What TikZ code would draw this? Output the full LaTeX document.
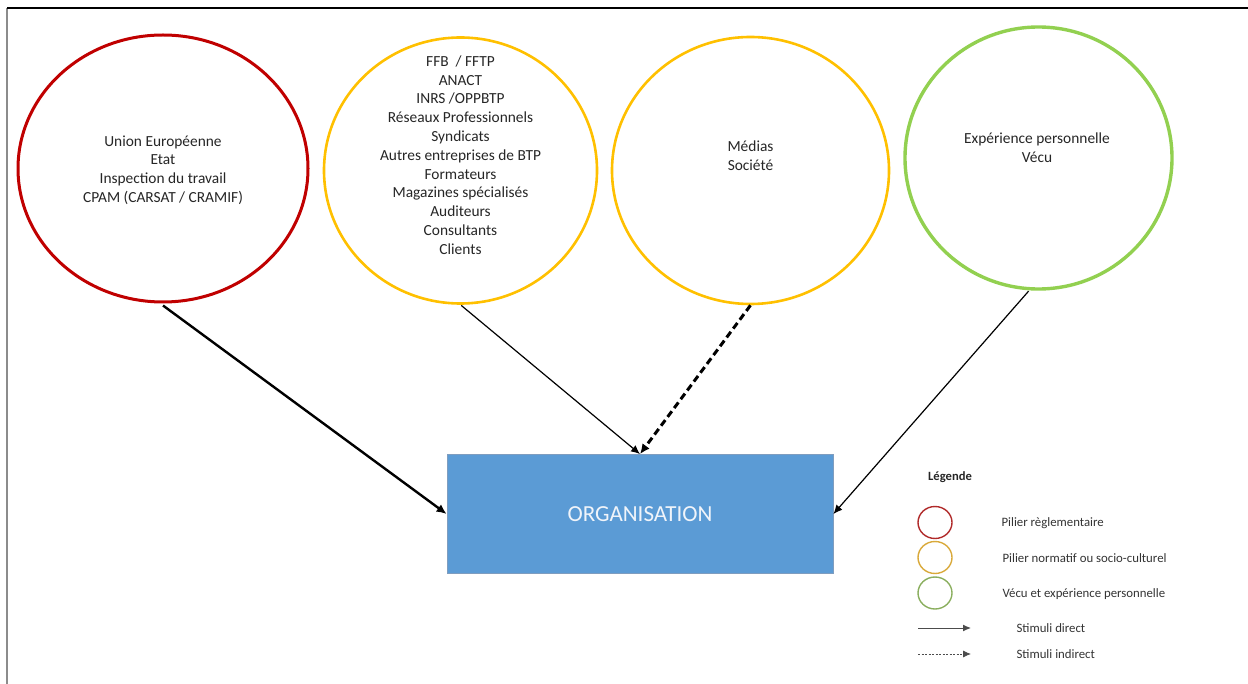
\documentclass[tikz,border=0pt]{standalone}
\usepackage{fontspec}
\setmainfont{Carlito}
\usetikzlibrary{shapes.geometric,arrows.meta}
\definecolor{pilred}{HTML}{C00000}
\definecolor{pilyel}{HTML}{FFC000}
\definecolor{pilgreen}{HTML}{92D050}
\definecolor{orgblue}{HTML}{5B9BD5}
\definecolor{orgborder}{HTML}{7F9DBF}
\definecolor{legred}{HTML}{B02A2A}
\definecolor{legyel}{HTML}{D9A93A}
\definecolor{leggreen}{HTML}{8AAE5E}
\tikzset{
  pillar/.style={ellipse, inner sep=0pt, fill=white},
  circtext/.style={align=center, font=\fontsize{15.4}{18.8}\selectfont, text=black!85},
  legtext/.style={anchor=west, font=\fontsize{12.8}{15}\selectfont, text=black!80},
  legcirc/.style={ellipse, inner sep=0pt, minimum width=34pt, minimum height=32pt, line width=1.4pt},
  direct/.style={-{Latex[length=9pt,width=8pt]}, line width=1.2pt, shorten <=1pt},
  directthick/.style={-{Latex[length=10pt,width=9pt]}, line width=2.4pt},
  indirect/.style={-{Latex[length=10pt,width=9pt]}, line width=3pt, dash pattern=on 7pt off 4pt},
}
\begin{document}
\begin{tikzpicture}[x=1pt,y=-1pt]
\useasboundingbox (0,0) rectangle (1248,684);
% frame
\draw[black!45, line width=1.2pt] (7,8) -- (7,684);
\draw[black, line width=1.5pt] (7,8) -- (1248,8);

% pillars
\node[pillar, draw=pilred, line width=3pt, minimum width=290pt, minimum height=267pt] (reg) at (163,168.5) {};
\node[pillar, draw=pilyel, line width=2.6pt, minimum width=273pt, minimum height=266pt] (norm) at (460.5,170.5) {};
\node[pillar, draw=pilyel, line width=2.6pt, minimum width=277pt, minimum height=267pt] (med) at (750.5,170.5) {};
\node[pillar, draw=pilgreen, line width=3.4pt, minimum width=267pt, minimum height=262pt] (exp) at (1038.5,158) {};

\node[circtext] (regt) at (163,170) {Union Européenne\\Etat\\Inspection du travail\\CPAM (CARSAT / CRAMIF)};
\node[circtext] (normt) at (460.5,155) {FFB\ \ / FFTP\\ANACT\\INRS /OPPBTP\\Réseaux Professionnels\\Syndicats\\Autres entreprises de BTP\\Formateurs\\Magazines spécialisés\\Auditeurs\\Consultants\\Clients};
\node[circtext] (medt) at (750.5,156) {Médias\\Société};
\node[circtext] (expt) at (1037,148) {Expérience personnelle\\Vécu};

% organisation
\node[draw=orgborder, line width=0.8pt, fill=orgblue, minimum width=386pt, minimum height=119pt, inner sep=0pt,
      font=\fontsize{23}{27}\selectfont, text={rgb,255:red,240;green,244;blue,250}] (org) at (640,514) {ORGANISATION};

% connectors
\coordinate (regs) at ([yshift=-2pt]reg.south);
\draw[directthick] (regs) -- (org.west);
\draw[direct] (norm.south) -- (org.north);
\draw[indirect] (med.south) -- (org.north);
\draw[direct] (exp.-94) -- (org.east);

% legend
\node[font=\bfseries\fontsize{12.6}{15}\selectfont, text=black!85] (leg) at (950,477) {Légende};
\node[legcirc, draw=legred] (l1) at (935,522.5) {};
\node[legcirc, draw=legyel] (l2) at (935,557.5) {};
\node[legcirc, draw=leggreen] (l3) at (935,593) {};
\node[legtext] (t1) at (998,523) {Pilier règlementaire};
\node[legtext] (t2) at (999,558) {Pilier normatif ou socio-culturel};
\node[legtext] (t3) at (999,594) {Vécu et expérience personnelle};
\coordinate (a1s) at (918,628);
\coordinate (a1e) at (971,628);
\coordinate (a2s) at (918,654);
\coordinate (a2e) at (971,654);
\draw[black!70, line width=1pt, -{Latex[length=8pt,width=7pt]}] (a1s) -- (a1e);
\draw[black!70, line width=0.8pt, dash pattern=on 2pt off 1.5pt, -{Latex[length=8pt,width=7pt]}] (a2s) -- (a2e);
\node[legtext] (t4) at (1013,628) {Stimuli direct};
\node[legtext] (t5) at (1013,654) {Stimuli indirect};
\end{tikzpicture}
\end{document}
